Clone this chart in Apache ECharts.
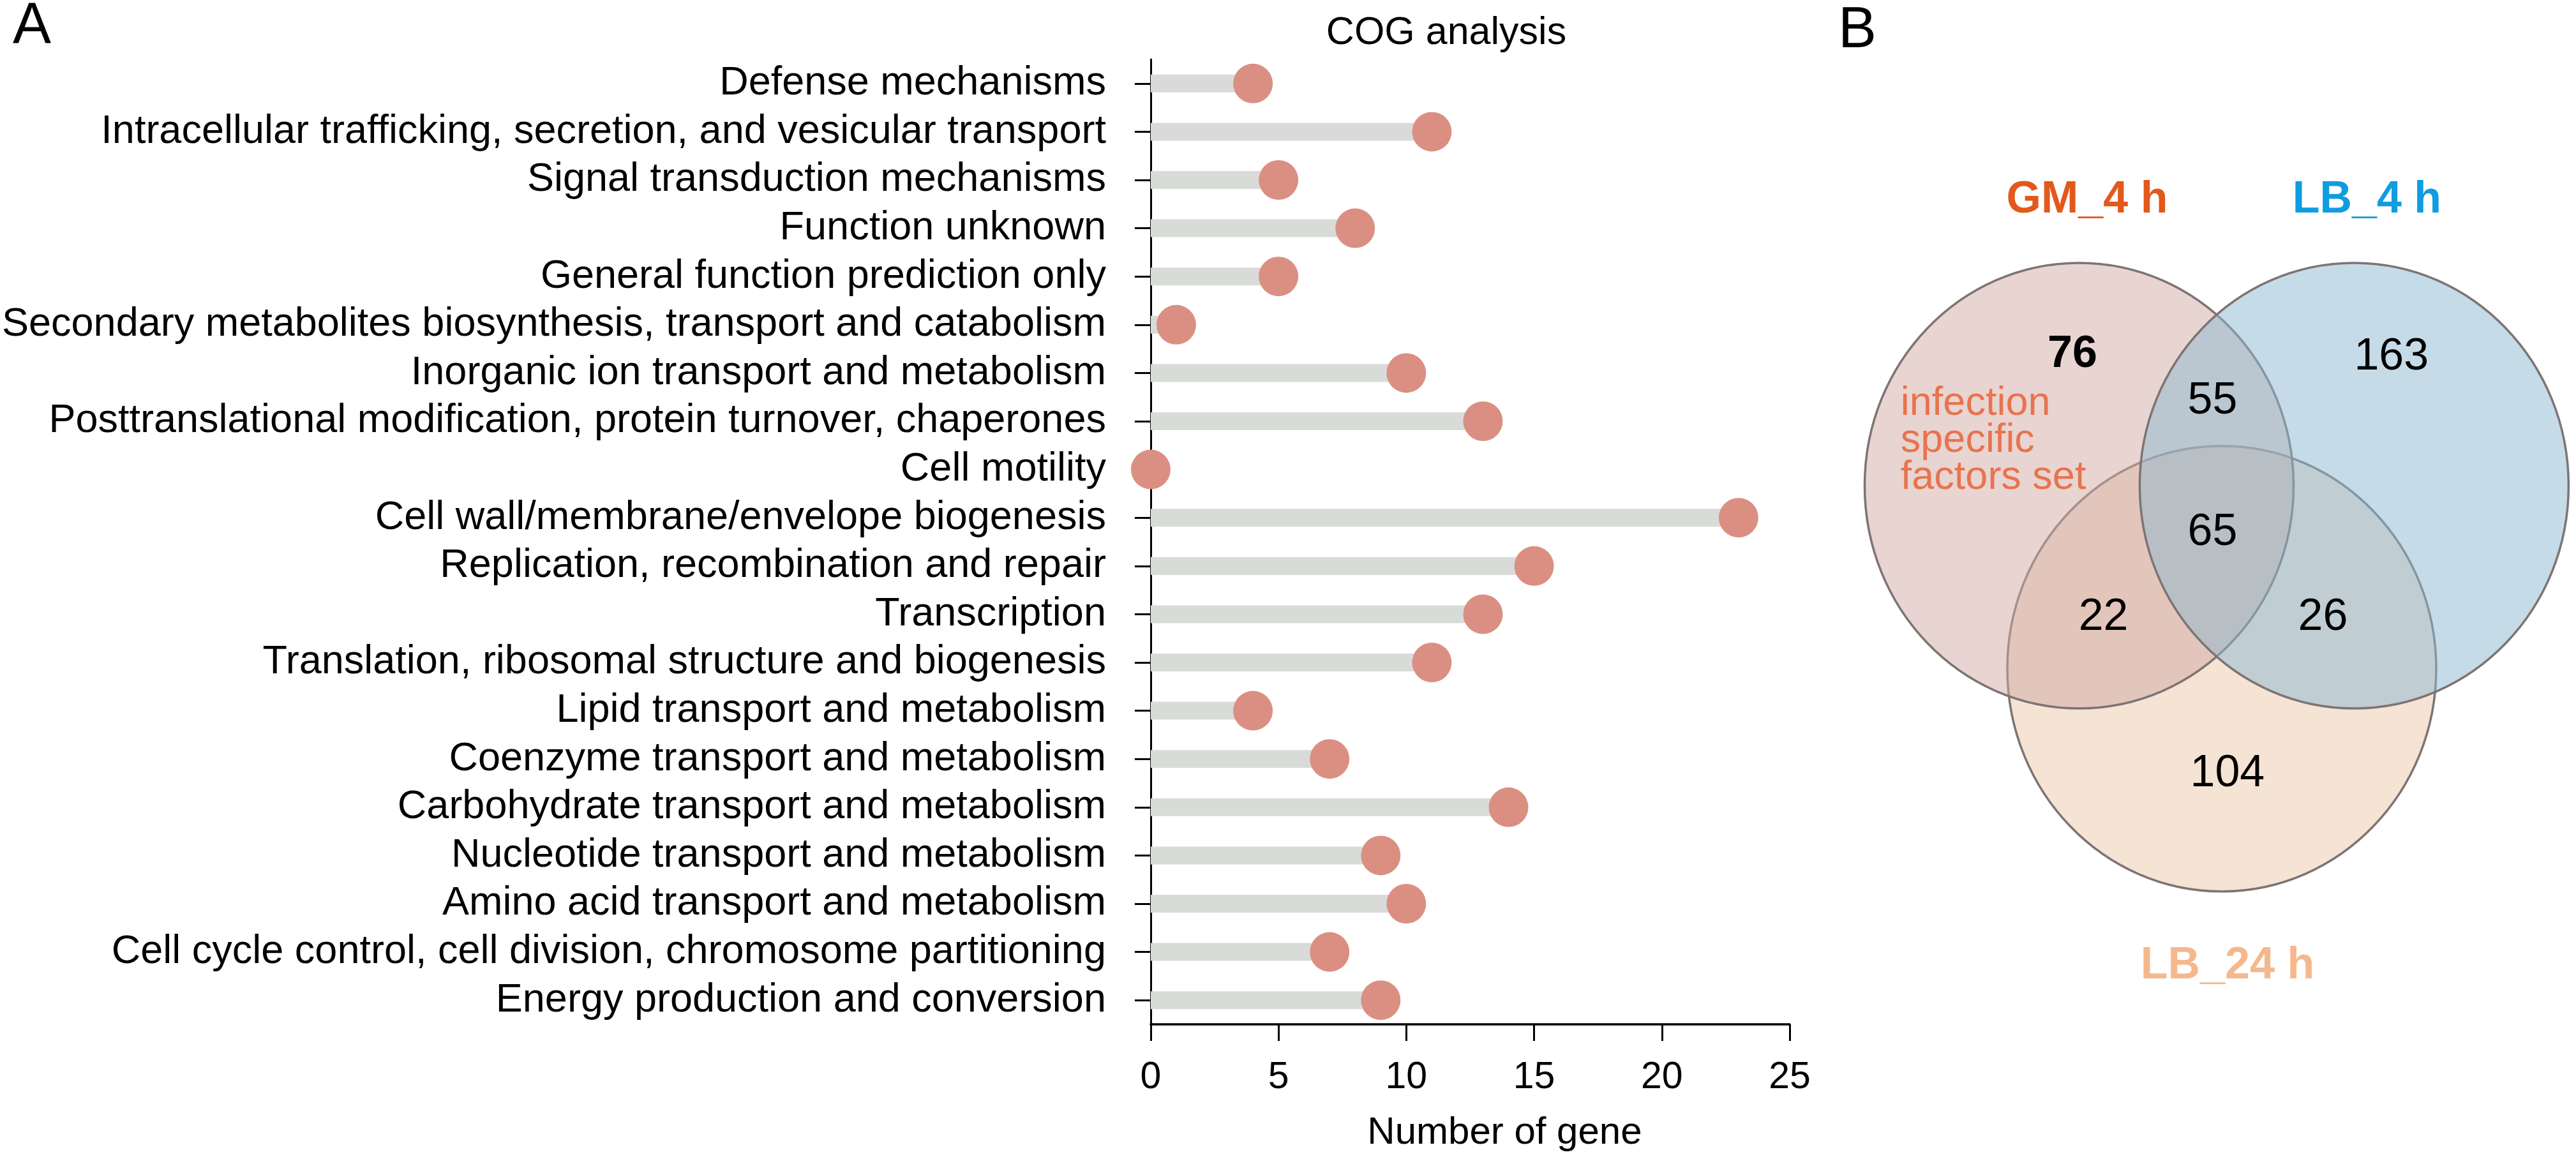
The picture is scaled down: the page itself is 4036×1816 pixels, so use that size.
<!DOCTYPE html>
<html>
<head>
<meta charset="utf-8">
<script src="https://cdn.jsdelivr.net/npm/echarts@6/dist/echarts.min.js"></script>
<style>
html,body{margin:0;padding:0;background:#ffffff;}
#main{width:4036px;height:1816px;}
</style>
</head>
<body>
<div id="main"></div>
<script>
// ---------- DATA ----------
const categories = [
  'Defense mechanisms',
  'Intracellular trafficking, secretion, and vesicular transport',
  'Signal transduction mechanisms',
  'Function unknown',
  'General function prediction only',
  'Secondary metabolites biosynthesis, transport and catabolism',
  'Inorganic ion transport and metabolism',
  'Posttranslational modification, protein turnover, chaperones',
  'Cell motility',
  'Cell wall/membrane/envelope biogenesis',
  'Replication, recombination and repair',
  'Transcription',
  'Translation, ribosomal structure and biogenesis',
  'Lipid transport and metabolism',
  'Coenzyme transport and metabolism',
  'Carbohydrate transport and metabolism',
  'Nucleotide transport and metabolism',
  'Amino acid transport and metabolism',
  'Cell cycle control, cell division, chromosome partitioning',
  'Energy production and conversion'
];
const geneCounts = [4, 11, 5, 8, 5, 1, 10, 13, 0, 23, 15, 13, 11, 4, 7, 14, 9, 10, 7, 9];
const xTickValues = [0, 5, 10, 15, 20, 25];

const vennSetNames = ['GM_4 h', 'LB_4 h', 'LB_24 h'];
const vennRegionNames = ['GM_4 h only', 'LB_4 h only', 'LB_24 h only',
  'GM_4 h & LB_4 h', 'GM_4 h & LB_24 h', 'LB_4 h & LB_24 h', 'all three'];
const vennRegionCounts = [76, 163, 104, 55, 22, 26, 65];
const vennNote = 'infection\nspecific\nfactors set';

// ---------- LAYOUT / STYLE ----------
const FONT = '"Liberation Sans", Arial, Helvetica, sans-serif';
// Venn panel coordinate space (grid units == px inside grid 1)
const vennCircleLayout = [
  { cx: 407.5, cy: 761,   rx: 336, ry: 349, fill: 'rgba(209,169,161,0.5)' },  // GM_4 h
  { cx: 838.4, cy: 761,   rx: 336, ry: 349, fill: 'rgba(139,183,207,0.5)' },  // LB_4 h
  { cx: 631,   cy: 1047.7, rx: 336, ry: 349, fill: 'rgba(235,199,169,0.5)' }  // LB_24 h
];
const vennDrawOrder = [2, 0, 1];
const vennSetLabelLayout = [
  { x: 420,   y: 314,  color: '#e2591b' },
  { x: 858.4, y: 314,  color: '#109ce0' },
  { x: 640,   y: 1514, color: '#f5b88c' }
];
const vennRegionLayout = [
  { x: 397,   y: 556,   bold: true },
  { x: 896.8, y: 560 },
  { x: 639.9, y: 1212.4 },
  { x: 616.5, y: 628.6 },
  { x: 445.6, y: 968 },
  { x: 789.4, y: 968 },
  { x: 616.5, y: 834.4 }
];
const vennNoteLayout = { x: 127.8, y: 691, color: '#e8734e' };

// ---------- BUILD ----------
const chart = echarts.init(document.getElementById('main'), null, { renderer: 'canvas' });

const circleData = vennDrawOrder.map(i => {
  const c = vennCircleLayout[i];
  return { name: vennSetNames[i], value: [c.cx, c.cy, c.rx, c.ry, i] };
});

const textItems = [];
vennSetNames.forEach((n, i) => {
  const l = vennSetLabelLayout[i];
  textItems.push({ value: [l.x, l.y], text: n, color: l.color, size: 70, weight: 'bold', align: 'center' });
});
vennRegionCounts.forEach((v, i) => {
  const l = vennRegionLayout[i];
  textItems.push({ value: [l.x, l.y], text: String(v), color: '#000', size: 70, weight: l.bold ? 'bold' : 'normal', align: 'center', name: vennRegionNames[i] });
});
textItems.push({ value: [vennNoteLayout.x, vennNoteLayout.y], text: vennNote, color: vennNoteLayout.color, size: 63, weight: 'normal', align: 'left', lineHeight: 58 });

const option = {
  animation: false,
  backgroundColor: '#ffffff',
  grid: [
    { left: 1800, top: 93, width: 1004, height: 1512, containLabel: false },
    { left: 2850, top: 0, width: 1186, height: 1816, containLabel: false }
  ],
  xAxis: [
    {
      type: 'value', gridIndex: 0,
      min: xTickValues[0], max: xTickValues[xTickValues.length - 1],
      interval: xTickValues[1] - xTickValues[0],
      axisLine: { show: true, lineStyle: { color: '#000', width: 3.5 } },
      axisTick: { show: true, length: 26, lineStyle: { color: '#000', width: 3 } },
      axisLabel: { fontSize: 59, color: '#000', margin: 54, fontFamily: FONT },
      splitLine: { show: false },
      name: 'Number of gene', nameLocation: 'middle', nameGap: 140,
      nameTextStyle: { fontSize: 60, color: '#000', fontFamily: FONT, padding: [0, 0, 0, 108] }
    },
    { type: 'value', gridIndex: 1, min: 0, max: 1186, show: false }
  ],
  yAxis: [
    {
      type: 'category', gridIndex: 0, data: categories, inverse: true,
      axisLine: { show: true, lineStyle: { color: '#000', width: 3 } },
      axisTick: { show: true, alignWithLabel: true, interval: 0, length: 25, lineStyle: { color: '#000', width: 3 } },
      axisLabel: { fontSize: 63, color: '#000', margin: 70, interval: 0, fontFamily: FONT },
      splitLine: { show: false }
    },
    { type: 'value', gridIndex: 1, min: 0, max: 1816, inverse: true, show: false }
  ],
  graphic: [
    { type: 'text', x: 20, y: 42, style: { text: 'A', font: '90px ' + FONT, fill: '#000', align: 'left', verticalAlign: 'middle', textAlign: 'left', textVerticalAlign: 'middle' } },
    { type: 'text', x: 2880, y: 49, style: { text: 'B', font: '90px ' + FONT, fill: '#000', align: 'left', verticalAlign: 'middle', textAlign: 'left', textVerticalAlign: 'middle' } },
    { type: 'text', x: 2266, y: 52.5, style: { text: 'COG analysis', font: '61px ' + FONT, fill: '#000', align: 'center', verticalAlign: 'middle', textAlign: 'center', textVerticalAlign: 'middle' } }
  ],
  series: [
    {
      type: 'bar', name: 'stem', xAxisIndex: 0, yAxisIndex: 0,
      data: geneCounts, barWidth: 28,
      itemStyle: { color: '#d9dbd9' }, silent: true, z: 2
    },
    {
      type: 'scatter', name: 'Number of gene', xAxisIndex: 0, yAxisIndex: 0,
      data: geneCounts.map((v, i) => [v, categories[i]]),
      symbol: 'circle', symbolSize: 62,
      itemStyle: { color: '#db8f83', opacity: 1 }, z: 3
    },
    {
      type: 'custom', name: 'venn', coordinateSystem: 'cartesian2d', xAxisIndex: 1, yAxisIndex: 1,
      data: circleData, silent: true, z: 2,
      renderItem: function (params, api) {
        const c = api.coord([api.value(0), api.value(1)]);
        const s = api.size([api.value(2), api.value(3)]);
        const idx = api.value(4);
        return {
          type: 'ellipse',
          shape: { cx: c[0], cy: c[1], rx: Math.abs(s[0]), ry: Math.abs(s[1]) },
          style: { fill: vennCircleLayout[idx].fill, stroke: '#7d7474', lineWidth: 3.5 }
        };
      }
    },
    {
      type: 'custom', name: 'venn-labels', coordinateSystem: 'cartesian2d', xAxisIndex: 1, yAxisIndex: 1,
      data: textItems, silent: true, z: 5,
      renderItem: function (params, api) {
        const it = textItems[params.dataIndex];
        const p = api.coord([api.value(0), api.value(1)]);
        return {
          type: 'text', x: p[0], y: p[1],
          style: {
            text: it.text, fill: it.color,
            font: it.weight + ' ' + it.size + 'px ' + FONT,
            lineHeight: it.lineHeight || it.size,
            align: it.align, verticalAlign: 'middle',
            textAlign: it.align, textVerticalAlign: 'middle'
          }
        };
      }
    }
  ]
};
chart.setOption(option);
</script>
</body>
</html>
